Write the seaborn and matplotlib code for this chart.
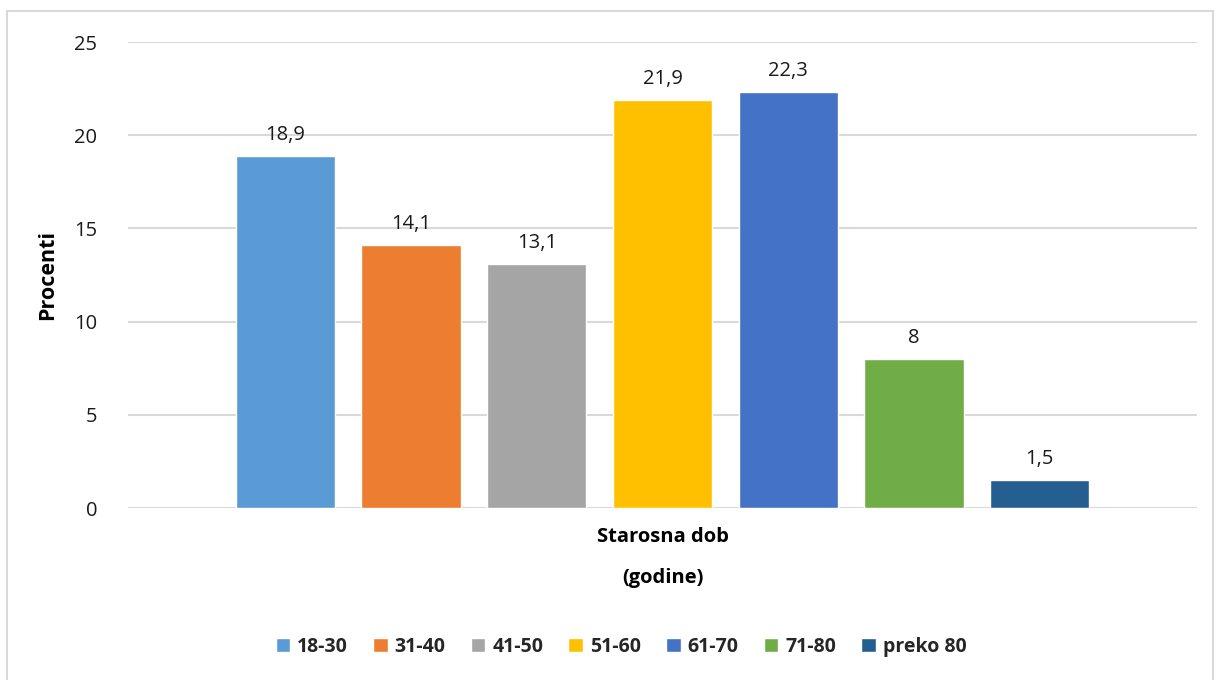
import matplotlib
matplotlib.use("Agg")
import matplotlib.pyplot as plt
from matplotlib.patches import Rectangle
import seaborn as sns
import pandas as pd

groups = ["18-30", "31-40", "41-50", "51-60", "61-70", "71-80", "preko 80"]
values = [18.9, 14.1, 13.1, 21.9, 22.3, 8, 1.5]
labels = ["18,9", "14,1", "13,1", "21,9", "22,3", "8", "1,5"]
colors = ["#5B9BD5", "#ED7D31", "#A5A5A5", "#FFC000", "#4472C4", "#70AD47", "#255E91"]
yticks = [0, 5, 10, 15, 20, 25]

sns.set_theme(style="white")
plt.rcParams["font.family"] = ["Open Sans", "DejaVu Sans"]

df = pd.DataFrame({"dob": groups, "procenti": values})

fig = plt.figure(figsize=(12.19, 6.8), dpi=100)
ax = fig.add_axes([128 / 1219, 1 - 508 / 680, (1197 - 128) / 1219, (508 - 42) / 680])

sns.barplot(data=df, x="dob", y="procenti", hue="dob", palette=colors,
            width=0.79, saturation=1, legend=True, ax=ax, zorder=3)

for patch, lab in zip(ax.patches, labels):
    ax.annotate(lab, (patch.get_x() + patch.get_width() / 2, patch.get_height()),
                xytext=(0, 8), textcoords="offset points", ha="center", va="bottom",
                fontsize=14.5, color="#1a1a1a")

ax.set_xlim(-1.25, 7.25)
ax.set_ylim(0, 25)
ax.set_yticks(yticks)
ax.set_yticklabels([str(t) for t in yticks], fontsize=14.5, color="#1a1a1a")
ax.tick_params(axis="y", length=0, pad=22)
ax.set_xticks([])
ax.yaxis.grid(True, color="#D9D9D9", linewidth=1.5, zorder=0)
for s in ax.spines.values():
    s.set_visible(False)

ax.set_ylabel("Procenti", fontsize=15.5, fontweight="bold", labelpad=12, color="black")
ax.set_xlabel("Starosna dob\n(godine)", fontsize=14.5, fontweight="bold",
              linespacing=2.4, labelpad=14, color="black")

handles = ax.patches[:len(groups)]
ax.legend(handles, groups, loc="center", bbox_to_anchor=(621 / 1219, 1 - 647 / 680),
          bbox_transform=fig.transFigure, ncol=len(groups), frameon=False,
          prop={"weight": "bold", "size": 14}, handlelength=0.75, handleheight=0.75,
          handletextpad=0.35, columnspacing=1.3)

fig.patches.append(Rectangle((7 / 1219, -0.05), (1213 - 7) / 1219, 1 - 11 / 680 + 0.05,
                             transform=fig.transFigure, fill=False,
                             edgecolor="#D9D9D9", linewidth=1.5))

fig.savefig("out.png", dpi=100, facecolor="white")
